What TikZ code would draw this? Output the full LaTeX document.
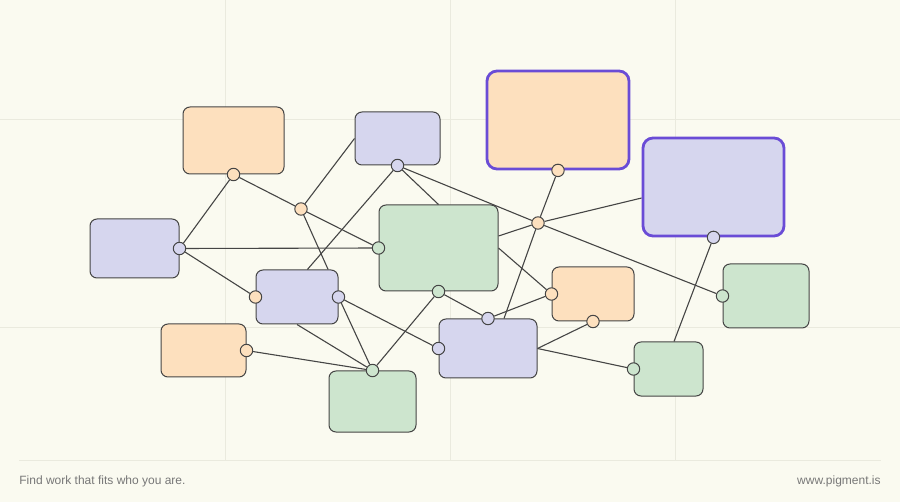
\documentclass[tikz,border=0pt]{standalone}
\usepackage{fontspec}
\setmainfont{Liberation Sans}
\usepackage{xcolor}
\usepackage{tikz}
\usetikzlibrary{calc}

\definecolor{paper}{HTML}{FAFAF0}
\definecolor{gridline}{HTML}{EAEADE}
\definecolor{peach}{HTML}{FDE0BE}
\definecolor{lilac}{HTML}{D6D6EE}
\definecolor{mint}{HTML}{CDE5CE}
\definecolor{edge}{HTML}{454545}
\definecolor{focus}{HTML}{6A4CD6}
\definecolor{footer}{HTML}{777777}

\begin{document}
\begin{tikzpicture}[
        x=0.5pt, y=-0.5pt,
        card/.style={rectangle, rounded corners=3.5pt, draw=edge, line width=0.5pt, inner sep=0pt},
        focuscard/.style={card, rounded corners=5pt, draw=focus, line width=1.4pt},
        port/.style={circle, draw=edge, line width=0.5pt, minimum size=6.2pt, inner sep=0pt},
        link/.style={draw=edge, line width=0.55pt},
        guide/.style={draw=gridline, line width=0.5pt},
        caption/.style={text=footer, font=\fontsize{6}{7}\selectfont, inner sep=0pt}
    ]

    \useasboundingbox (0,0) rectangle (900,502);
    \fill[paper] (0,0) rectangle (900,502);
    \draw[guide] (225,0) -- (225,460);
    \draw[guide] (450,0) -- (450,460);
    \draw[guide] (675,0) -- (675,460);
    \draw[guide] (0,120) -- (900,120);
    \draw[guide] (0,328) -- (900,328);
    \draw[guide] (19,460) -- (881,460);

    \node[card, fill=peach, minimum width=50.5pt, minimum height=33.5pt] (peach_1) at (233.5,140.5) {};
    \node[focuscard, fill=peach, minimum width=71pt, minimum height=49pt] (peach_2) at (558,120) {};
    \node[card, fill=peach, minimum width=42.5pt, minimum height=26.5pt] (peach_3) at (203.5,350.5) {};
    \node[card, fill=peach, minimum width=41pt, minimum height=27pt] (peach_4) at (593,294) {};
    \node[card, fill=lilac, minimum width=42.5pt, minimum height=26.5pt] (lilac_1) at (397.5,138.5) {};
    \node[card, fill=lilac, minimum width=44.5pt, minimum height=29.5pt] (lilac_2) at (134.5,248.5) {};
    \node[card, fill=lilac, minimum width=41pt, minimum height=27pt] (lilac_3) at (297,297) {};
    \node[focuscard, fill=lilac, minimum width=70.5pt, minimum height=49pt] (lilac_4) at (713.5,187) {};
    \node[card, fill=lilac, minimum width=49pt, minimum height=29.5pt] (lilac_5) at (488,348.5) {};
    \node[card, fill=mint, minimum width=59.5pt, minimum height=43pt] (mint_1) at (438.5,248) {};
    \node[card, fill=mint, minimum width=43.5pt, minimum height=30.5pt] (mint_2) at (372.5,401.5) {};
    \node[card, fill=mint, minimum width=43pt, minimum height=32pt] (mint_3) at (766,296) {};
    \node[card, fill=mint, minimum width=34.5pt, minimum height=27pt] (mint_4) at (668.5,369) {};

    \node[port, fill=peach] (peach_1_s) at (peach_1.south) {};
    \node[port, fill=peach] (peach_2_s) at (peach_2.south) {};
    \node[port, fill=peach] (peach_3_e) at (peach_3.east) {};
    \node[port, fill=peach] (peach_4_w) at (peach_4.west) {};
    \node[port, fill=peach] (peach_4_s) at (peach_4.south) {};
    \node[port, fill=lilac] (lilac_1_s) at (lilac_1.south) {};
    \node[port, fill=lilac] (lilac_2_e) at (lilac_2.east) {};
    \node[port, fill=peach] (lilac_3_w) at (lilac_3.west) {};
    \node[port, fill=lilac] (lilac_3_e) at (lilac_3.east) {};
    \node[port, fill=lilac] (lilac_4_s) at (lilac_4.south) {};
    \node[port, fill=lilac] (lilac_5_n) at (lilac_5.north) {};
    \node[port, fill=lilac] (lilac_5_w) at (lilac_5.west) {};
    \node[port, fill=mint] (mint_1_w) at (mint_1.west) {};
    \node[port, fill=mint] (mint_1_s) at (mint_1.south) {};
    \node[port, fill=mint] (mint_2_n) at (mint_2.north) {};
    \node[port, fill=mint] (mint_3_w) at (mint_3.west) {};
    \node[port, fill=mint] (mint_4_w) at (mint_4.west) {};
    \node[port, fill=peach] (knot_1) at (301,209) {};
    \node[port, fill=peach] (knot_2) at (538,223) {};

    \draw[link] (peach_1_s) -- (lilac_2_e);
    \draw[link] (peach_1_s) -- (knot_1);
    \draw[link] (knot_1) -- (mint_1_w);
    \draw[link] (knot_1) -- (lilac_1.west);
    \draw[link] (knot_1) -- ($(lilac_3.north)!0.75!(lilac_3.north east)$);
    \draw[link] (lilac_2_e) -- (mint_1_w);
    \draw[link] (lilac_2_e) -- (lilac_3_w);
    \draw[link] (lilac_1_s) -- ($(lilac_3.north)!0.25!(lilac_3.north east)$);
    \draw[link] (lilac_1_s) -- (mint_1.north);
    \draw[link] (lilac_1_s) -- (knot_2);

    \draw[link] (knot_2) -- (peach_2_s);
    \draw[link] (knot_2) -- ([yshift=-5.5pt]lilac_4.west);
    \draw[link] (knot_2) -- ([yshift=6pt]mint_1.east);
    \draw[link] (knot_2) -- (mint_3_w);
    \draw[link] (knot_2) -- ([xshift=8pt]lilac_5.north);
    \draw[link] (mint_1.east) -- (peach_4_w);
    \draw[link] (mint_1_s) -- (lilac_5_n);
    \draw[link] (mint_1_s) -- (mint_2_n);
    \draw[link] (lilac_5_n) -- (peach_4_w);

    \draw[link] (lilac_3_e) -- (mint_2_n);
    \draw[link] (lilac_3_e) -- (lilac_5_w);
    \draw[link] (lilac_3.south) -- (mint_2_n);
    \draw[link] (peach_3_e) -- (mint_2_n);
    \draw[link] (lilac_5.east) -- (peach_4_s);
    \draw[link] (lilac_5.east) -- (mint_4_w);
    \draw[link] (lilac_4_s) -- ([xshift=2.75pt]mint_4.north);

    \node[caption, anchor=west] (tagline) at (19,481) {Find work that fits who you are.};
    \node[caption, anchor=east] (website) at (881,481) {www.pigment.is};
\end{tikzpicture}
\end{document}
